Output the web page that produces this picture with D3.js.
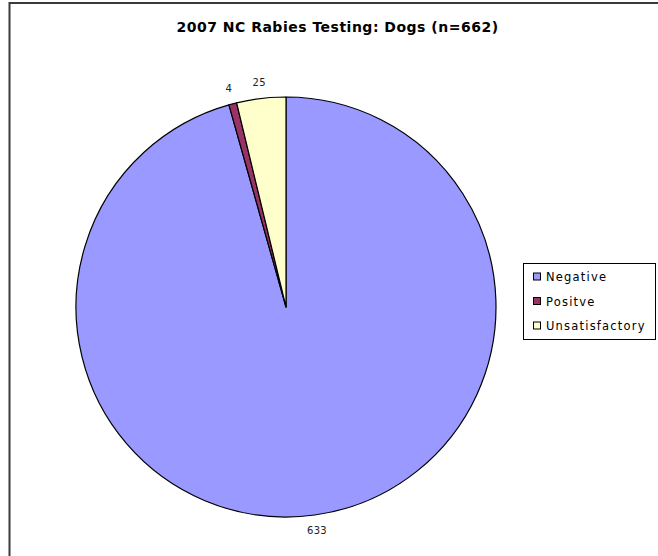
<!DOCTYPE html>
<html>
<head>
<meta charset="utf-8">
<script src="https://cdn.jsdelivr.net/npm/d3@7"></script>
<style>
html,body{margin:0;padding:0;background:#fff;}
svg{display:block;}
</style>
</head>
<body>
<svg id="chart" width="658" height="556"></svg>
<script>
const categories = ["Negative", "Positve", "Unsatisfactory"];
const values = [633, 4, 25];
const colors = ["#9999FF", "#993366", "#FFFFCC"];
const title = "2007 NC Rabies Testing: Dogs (n=662)";

const svg = d3.select("#chart");
const font = "Verdana, 'DejaVu Sans', sans-serif";

// frame
svg.append("rect")
  .attr("x", 9.5).attr("y", 3).attr("width", 700).attr("height", 600)
  .attr("fill", "none").attr("stroke", "#3a3a3a").attr("stroke-width", 2);

svg.append("text")
  .attr("x", 337.5).attr("y", 32)
  .attr("text-anchor", "middle")
  .attr("font-family", font).attr("font-weight", "bold").attr("font-size", 14)
  .attr("letter-spacing", 0.5)
  .text(title);

const cx = 286, cy = 307, r = 210;
const data = categories.map((c, i) => ({cat: c, value: values[i], color: colors[i]}));
const pie = d3.pie().value(d => d.value).sort(null);
const arcs = pie(data);
const arc = d3.arc().innerRadius(0).outerRadius(r);
const labelArc = d3.arc().innerRadius(226).outerRadius(226);

const g = svg.append("g").attr("transform", `translate(${cx},${cy})`);
g.selectAll("path").data(arcs).join("path")
  .attr("d", arc)
  .attr("fill", d => d.data.color)
  .attr("stroke", "#000").attr("stroke-width", 1.2).attr("stroke-linejoin", "round");

g.selectAll("text.lbl").data(arcs).join("text")
  .attr("class", "lbl")
  .attr("transform", d => `translate(${labelArc.centroid(d)})`)
  .attr("text-anchor", "middle").attr("dy", "0.35em")
  .attr("font-family", font).attr("font-size", 10).attr("fill", "#222")
  .attr("letter-spacing", 0.3)
  .text(d => d.data.value);

// legend
const lg = svg.append("g");
lg.append("rect").attr("x", 523.5).attr("y", 263.5).attr("width", 132).attr("height", 76)
  .attr("fill", "#fff").attr("stroke", "#000").attr("stroke-width", 1);
const y0 = 276.5, step = 24.5;
const items = lg.selectAll("g.item").data(data).join("g").attr("class", "item")
  .attr("transform", (d, i) => `translate(0,${y0 + i * step})`);
items.append("rect").attr("x", 533.5).attr("y", -3.5).attr("width", 7).attr("height", 7)
  .attr("fill", d => d.color).attr("stroke", "#000").attr("stroke-width", 1);
items.append("text").attr("x", 546).attr("y", 4.5)
  .attr("font-family", font).attr("font-size", 11.5).attr("fill", "#000")
  .attr("letter-spacing", 1.2)
  .text(d => d.cat);
</script>
</body>
</html>
